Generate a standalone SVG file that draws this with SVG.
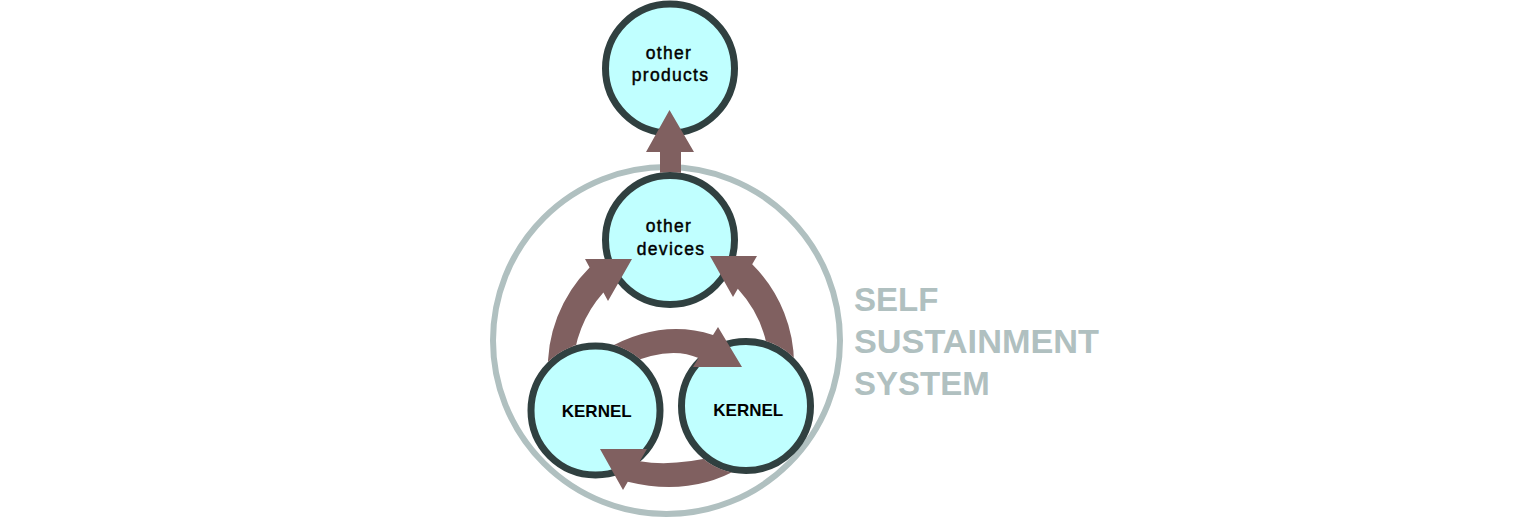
<svg xmlns="http://www.w3.org/2000/svg" width="1536" height="521" viewBox="0 0 1536 521">
  <style>
    .node { fill: #c0ffff; stroke: #304040; stroke-width: 7; }
    .arrow { fill: #806060; stroke: none; }
    .lbl { font-family: "Liberation Sans", Arial, sans-serif; font-size: 17.5px; fill: #000000; stroke: #000000; stroke-width: 0.45; text-anchor: middle; letter-spacing: 1.3px; }
    .klbl { font-family: "Liberation Sans", Arial, sans-serif; font-size: 17px; font-weight: bold; fill: #000000; text-anchor: middle; }
    .sys { font-family: "Liberation Sans", Arial, sans-serif; font-size: 33px; font-weight: bold; fill: #b0c0c0; }
  </style>
  <defs>
    <mask id="mDev" maskUnits="userSpaceOnUse" x="0" y="0" width="1536" height="521">
      <rect x="0" y="0" width="1536" height="521" fill="#fff"/>
      <circle cx="670" cy="240" r="68" fill="#000"/>
    </mask>
    <mask id="mKL" maskUnits="userSpaceOnUse" x="0" y="0" width="1536" height="521">
      <rect x="0" y="0" width="1536" height="521" fill="#fff"/>
      <circle cx="595.5" cy="410.5" r="68" fill="#000"/>
    </mask>
    <mask id="mKR" maskUnits="userSpaceOnUse" x="0" y="0" width="1536" height="521">
      <rect x="0" y="0" width="1536" height="521" fill="#fff"/>
      <circle cx="746" cy="406" r="68" fill="#000"/>
    </mask>
  </defs>
  <rect x="0" y="0" width="1536" height="521" fill="#ffffff"/>

  <g id="system">
    <circle cx="666.5" cy="340.5" r="173.5" fill="none" stroke="#b0c0c0" stroke-width="6"/>
    <text class="sys" x="854" y="311">SELF</text>
    <text class="sys" x="854" y="353" textLength="245" lengthAdjust="spacingAndGlyphs">SUSTAINMENT</text>
    <text class="sys" x="854" y="395">SYSTEM</text>
  </g>

  <g id="other-products">
    <circle class="node" cx="670" cy="68.5" r="64.5"/>
    <text class="lbl" x="669" y="59">other</text>
    <text class="lbl" x="670.5" y="81">products</text>
  </g>

  <g id="other-devices">
    <circle class="node" cx="670" cy="240" r="64.5"/>
    <text class="lbl" x="669" y="231.5">other</text>
    <text class="lbl" x="671" y="255">devices</text>
  </g>

  <g id="kernel-left">
    <circle class="node" cx="595.5" cy="410.5" r="64.5"/>
    <text class="klbl" x="596.7" y="416.5">KERNEL</text>
  </g>

  <g id="kernel-right">
    <circle class="node" cx="746" cy="406" r="64.5"/>
    <text class="klbl" x="748.3" y="415.5">KERNEL</text>
  </g>

  <g id="connectors">
    <path class="arrow" mask="url(#mDev)" d="M 660 200 L 660 152 L 646 152 L 669.5 110 L 694 152 L 681 152 L 681 200 Z"/>
    <path class="arrow" mask="url(#mKL)" d="M 548 375 A 142 142 0 0 1 589.6 267.4 L 585 259 L 632 259 L 608 301 L 603.4 292.6 A 119 119 0 0 0 573 370 Z"/>
    <path class="arrow" mask="url(#mKR)" d="M 794 370 A 142 142 0 0 0 752.2 264.2 L 757 256 L 710 256 L 733 297 L 737.8 288.8 A 119 119 0 0 1 769 365 Z"/>
    <path class="arrow" mask="url(#mKL)" d="M 605 350 Q 660 318 713 335 L 718 327 L 742 367 L 693 367 L 698.5 358 Q 670 345 625 365 Z"/>
    <path class="arrow" mask="url(#mKR)" d="M 720 455 Q 675 467 639.8 461.3 L 647 449 L 600 449 L 623 490 L 627.8 481.8 Q 690 497 740 468 Z"/>
  </g>
</svg>
